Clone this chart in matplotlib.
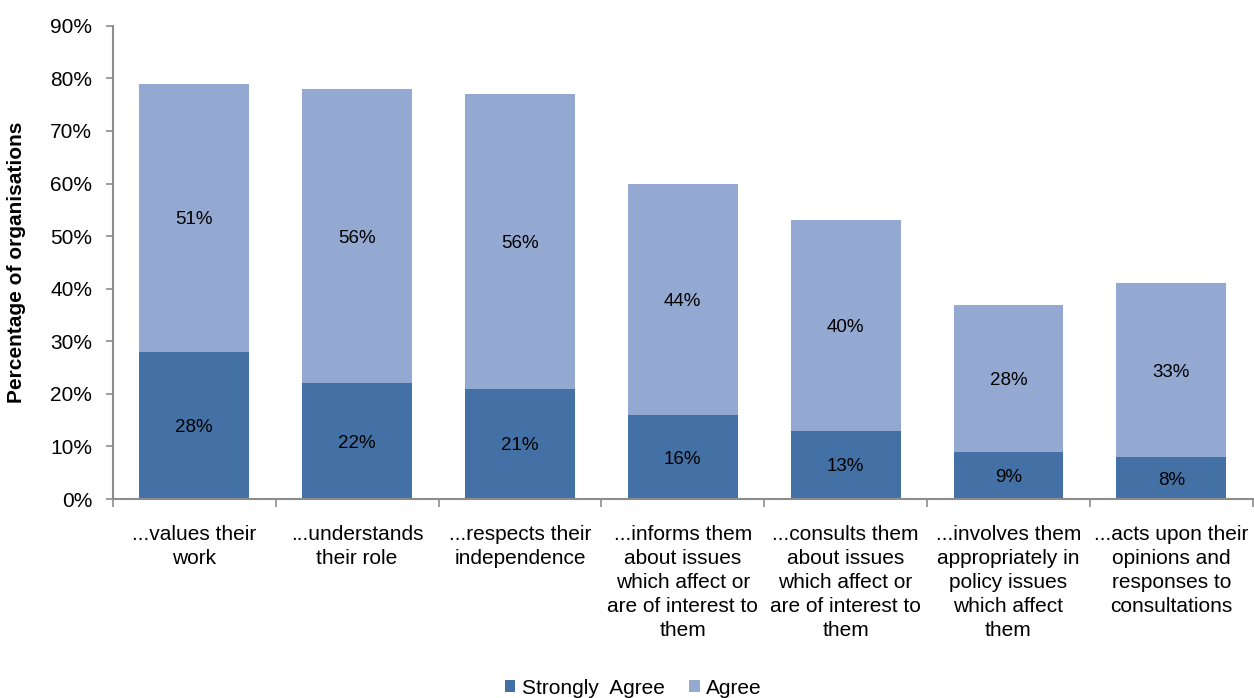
import numpy as np
import matplotlib
matplotlib.use("Agg")
import matplotlib.pyplot as plt
from matplotlib.ticker import MultipleLocator, FuncFormatter

plt.rcParams['font.family'] = ['Liberation Sans', 'DejaVu Sans']

categories = [
    "...values their\nwork",
    "...understands\ntheir role",
    "...respects their\nindependence",
    "...informs them\nabout issues\nwhich affect or\nare of interest to\nthem",
    "...consults them\nabout issues\nwhich affect or\nare of interest to\nthem",
    "...involves them\nappropriately in\npolicy issues\nwhich affect\nthem",
    "...acts upon their\nopinions and\nresponses to\nconsultations",
]
strongly_agree = [28, 22, 21, 16, 13, 9, 8]
agree = [51, 56, 56, 44, 40, 28, 33]

dark = "#4471A5"
light = "#94A9D1"
axis_grey = "#8C8C8C"

fig = plt.figure(figsize=(12.54, 6.98), dpi=100)
ax = fig.add_axes([0.090, 0.285, 0.909, 0.678])

x = np.arange(len(categories))
w = 0.675
b1 = ax.bar(x, strongly_agree, w, color=dark, label="Strongly  Agree")
b2 = ax.bar(x, agree, w, bottom=strongly_agree, color=light, label="Agree")

# value labels in the middle of each segment
for xi, sa, ag in zip(x, strongly_agree, agree):
    ax.text(xi, sa / 2, f"{sa}%", ha="center", va="center_baseline", fontsize=13.5)
    ax.text(xi, sa + ag / 2, f"{ag}%", ha="center", va="center_baseline", fontsize=13.5)

ax.set_xlim(-0.5, len(categories) - 0.5)
ax.set_ylim(0, 90)
ax.yaxis.set_major_locator(MultipleLocator(10))
ax.yaxis.set_major_formatter(FuncFormatter(lambda v, p: f"{v:.0f}%"))
ax.tick_params(axis="y", labelsize=15, length=5, color=axis_grey, width=1.2, pad=10)

# category ticks sit between the bars
ax.set_xticks(np.arange(-0.5, len(categories), 1.0))
ax.set_xticklabels([])
ax.tick_params(axis="x", length=6, color=axis_grey, width=1.2)
for xi, lab in zip(x, categories):
    ax.text(xi, -0.055, lab, transform=ax.get_xaxis_transform(), ha="center", va="top",
            fontsize=15, linespacing=1.34)

for s in ["top", "right"]:
    ax.spines[s].set_visible(False)
for s in ["left", "bottom"]:
    ax.spines[s].set_color(axis_grey)
    ax.spines[s].set_linewidth(1.5)

ax.set_ylabel("Percentage of organisations", fontsize=15, fontweight="bold")
ax.yaxis.set_label_coords(-0.076, 0.5)

fig.legend(handles=[b1, b2], loc="center", bbox_to_anchor=(0.505, 0.014), ncol=2, frameon=False,
           fontsize=15, handlelength=0.5, handleheight=0.5, handletextpad=0.3, columnspacing=1.2)

fig.savefig("out.png", dpi=100)
